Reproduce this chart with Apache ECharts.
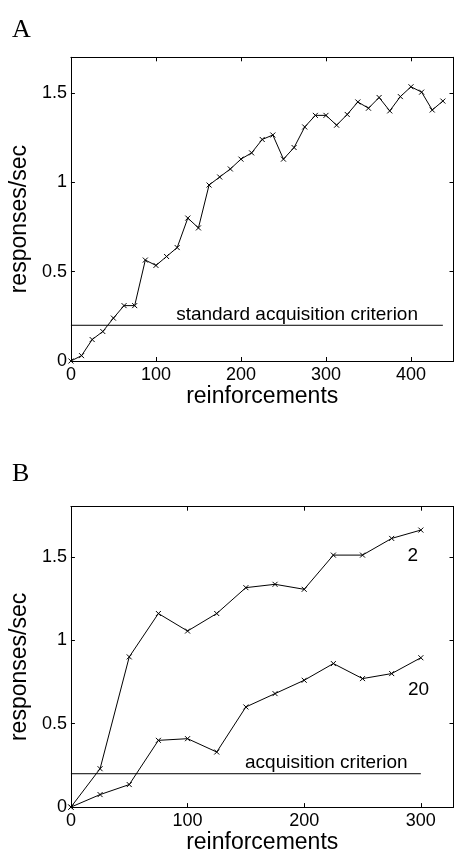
<!DOCTYPE html>
<html>
<head>
<meta charset="utf-8">
<script src="https://cdn.jsdelivr.net/npm/echarts@6/dist/echarts.min.js"></script>
<style>
  html, body { margin: 0; padding: 0; background: #fff; }
  #chart { width: 454px; height: 855px; }
</style>
</head>
<body>
<div id="chart"></div>
<script>
// panel A: one curve, a point every 12.5 reinforcements
var reinfA = [0, 12.5, 25, 37.5, 50, 62.5, 75, 87.5, 100, 112.5, 125, 137.5, 150,
  162.5, 175, 187.5, 200, 212.5, 225, 237.5, 250, 262.5, 275, 287.5, 300,
  312.5, 325, 337.5, 350, 362.5, 375, 387.5, 400, 412.5, 425, 437.5]
var rateA = [0, 0.03, 0.12, 0.165, 0.24, 0.31, 0.31, 0.565, 0.535, 0.585, 0.635, 0.80, 0.745,
  0.985, 1.03, 1.075, 1.13, 1.165, 1.24, 1.265, 1.13, 1.195, 1.31, 1.375, 1.375,
  1.32, 1.38, 1.45, 1.415, 1.475, 1.40, 1.48, 1.535, 1.505, 1.405, 1.455]

// panel B: two curves (labels 2 and 20)
var reinfB = [0, 25, 50, 75, 100, 125, 150, 175, 200, 225, 250, 275, 300]
var rate2 = [0, 0.23, 0.90, 1.16, 1.055, 1.16, 1.315, 1.335, 1.305, 1.51, 1.51, 1.61, 1.66]
var rate20 = [0, 0.075, 0.135, 0.40, 0.41, 0.33, 0.60, 0.68, 0.76, 0.86, 0.77, 0.80, 0.895]

var criterion = 0.2
var critSpanA = [0, 437.5]
var critSpanB = [0, 300]

var font = "'Liberation Sans', Arial, Helvetica, sans-serif"
var serif = "'Liberation Serif', 'DejaVu Serif', serif"
var crossSymbol = 'path://M0,0L10,10M10,0L0,10'

function pairs(xs, ys) {
  return xs.map(function (x, i) { return [x, ys[i]] })
}

// box axes, ticks pointing inwards like the matlab original
function xAx(grid, max, pos) {
  var ax = {
    type: 'value', gridIndex: grid, position: pos, min: 0, max: max, interval: 100,
    axisLine: { onZero: false, lineStyle: { color: '#000', width: 1 } },
    axisTick: { inside: true, length: 4, lineStyle: { color: '#000' } },
    axisLabel: { show: false },
    splitLine: { show: false }
  }
  if (pos === 'bottom') {
    ax.name = 'reinforcements'
    ax.nameLocation = 'middle'
    ax.nameGap = 19
    ax.nameTextStyle = { fontFamily: font, fontSize: 23, color: '#000' }
    ax.axisLabel = { fontFamily: font, fontSize: 18, color: '#000', margin: 5, showMaxLabel: false }
  }
  return ax
}
function yAx(grid, max, pos) {
  var ax = {
    type: 'value', gridIndex: grid, position: pos, min: 0, max: max, interval: 0.5,
    axisLine: { show: true, onZero: false, lineStyle: { color: '#000', width: 1 } },
    axisTick: { show: true, inside: true, length: 4, lineStyle: { color: '#000' } },
    axisLabel: { show: false },
    splitLine: { show: false }
  }
  if (pos === 'left') {
    ax.name = 'responses/sec'
    ax.nameLocation = 'middle'
    ax.nameGap = 28
    ax.nameTextStyle = { fontFamily: font, fontSize: 23, color: '#000', padding: [0, 20, 0, 0] }
    ax.axisLabel = { fontFamily: font, fontSize: 18, color: '#000', margin: 4, showMaxLabel: false }
  }
  return ax
}

function curve(xi, yi, data) {
  return {
    type: 'line', xAxisIndex: xi, yAxisIndex: yi, data: data,
    symbol: crossSymbol, symbolSize: 5,
    lineStyle: { color: '#000', width: 1 },
    itemStyle: { color: '#000', borderColor: '#000', borderWidth: 1 },
    silent: true, animation: false
  }
}

function textMark(coord, text, pos) {
  return {
    symbol: 'rect', symbolSize: 1,
    itemStyle: { color: 'rgba(0,0,0,0)' },
    label: { show: true, position: pos, distance: 1, formatter: text,
      fontFamily: font, fontSize: 19, color: '#000' },
    data: [{ coord: coord }]
  }
}

var myChart = echarts.init(document.getElementById('chart'))
var option = {
  backgroundColor: '#fff',
  animation: false,
  title: [
    { text: 'A', left: 7, top: 12, textStyle: { fontFamily: serif, fontSize: 26, fontWeight: 'normal', color: '#000' } },
    { text: 'B', left: 7, top: 456, textStyle: { fontFamily: serif, fontSize: 26, fontWeight: 'normal', color: '#000' } }
  ],
  grid: [
    { left: 67.5, top: 57.3, width: 386, height: 303.7 },
    { left: 67.5, top: 506.7, width: 386, height: 303.3 }
  ],
  xAxis: [xAx(0, 450, 'bottom'), xAx(0, 450, 'top'), xAx(1, 328, 'bottom'), xAx(1, 328, 'top')],
  yAxis: [yAx(0, 1.7, 'left'), yAx(0, 1.7, 'right'), yAx(1, 1.8, 'left'), yAx(1, 1.8, 'right')],
  series: [
    curve(0, 0, pairs(reinfA, rateA)),
    Object.assign(curve(0, 0, critSpanA.map(function (x) { return [x, criterion] })), {
      symbol: 'none',
      markPoint: textMark([266, criterion], 'standard acquisition criterion', 'top')
    }),
    Object.assign(curve(2, 2, pairs(reinfB, rate2)), {
      markPoint: textMark([293, 1.506], '2', 'inside')
    }),
    Object.assign(curve(2, 2, pairs(reinfB, rate20)), {
      markPoint: textMark([298, 0.702], '20', 'inside')
    }),
    Object.assign(curve(2, 2, critSpanB.map(function (x) { return [x, criterion] })), {
      symbol: 'none',
      markPoint: textMark([219, criterion], 'acquisition criterion', 'top')
    })
  ]
}
myChart.setOption(option)
</script>
</body>
</html>
